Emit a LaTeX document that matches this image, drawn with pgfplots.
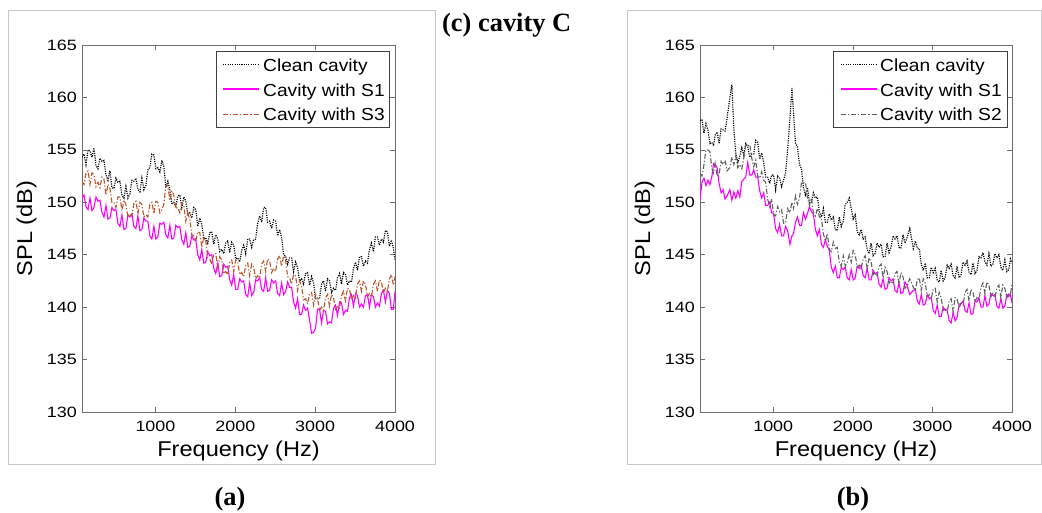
\documentclass[border=0pt]{standalone}
\usepackage{pgfplots}
\pgfplotsset{compat=1.18}
\usepackage{pgfplotstable}
\usepackage{fontspec}
\setmainfont{Liberation Serif}
\newfontfamily\sansf[FakeStretch=1.1]{Liberation Sans}
\newfontfamily\tickf[FakeStretch=1.2]{Liberation Sans}
\definecolor{mag}{RGB}{255,0,255}
\definecolor{brn}{RGB}{185,85,40}
\definecolor{gryl}{RGB}{95,95,95}
\definecolor{axg}{RGB}{110,110,110}
\definecolor{frm}{RGB}{200,200,200}
\definecolor{lgb}{RGB}{64,64,64}

\pgfplotstableread{
f c s1 s3
80 154.3 150.4 152.0
105 154.6 150.7 151.7
130 153.6 149.6 152.8
155 155.0 149.3 153.0
180 154.9 150.4 151.7
205 154.3 149.2 152.8
230 155.2 149.5 152.6
255 153.5 150.5 151.5
280 153.2 150.1 151.9
305 154.2 150.2 151.4
330 153.9 149.0 152.4
355 154.0 148.6 152.2
380 152.6 149.7 150.7
405 152.1 148.4 151.7
430 153.0 148.5 151.3
455 151.4 149.5 150.0
480 151.3 149.2 150.0
505 152.3 149.3 149.5
530 151.9 148.0 150.5
555 152.0 147.7 150.5
580 150.7 148.8 149.2
605 150.4 147.4 150.2
630 151.5 147.5 149.8
655 150.4 148.8 148.6
680 150.8 148.6 148.9
705 152.1 148.9 148.7
730 152.0 147.7 149.9
755 152.3 147.5 150.1
780 151.2 148.7 148.9
805 151.0 147.3 150.0
830 152.3 147.4 149.8
855 151.2 148.5 148.6
880 151.6 148.2 148.8
905 153.1 148.2 148.6
930 153.3 146.8 149.8
955 154.6 146.5 150.0
980 154.5 147.7 148.9
1005 153.2 146.5 150.1
1030 153.3 146.7 150.0
1055 152.9 148.0 149.0
1080 154.0 147.9 149.3
1105 153.4 148.1 149.8
1130 151.4 146.9 151.6
1155 152.0 146.6 151.6
1180 151.2 147.8 150.2
1205 149.9 146.5 151.1
1230 150.0 146.6 150.7
1255 149.6 147.8 149.4
1280 150.6 147.6 149.5
1305 150.7 147.7 149.0
1330 149.5 146.4 149.9
1355 150.5 146.0 149.7
1380 150.1 147.1 148.2
1405 148.8 145.7 149.0
1430 149.0 145.8 148.4
1455 148.5 146.8 146.9
1480 149.5 146.4 146.8
1505 149.3 146.4 146.3
1530 147.7 145.0 147.2
1555 148.5 144.5 147.1
1580 147.9 145.5 145.7
1605 146.5 144.2 146.7
1630 146.6 144.3 146.3
1655 146.1 145.3 144.7
1680 147.1 144.9 144.6
1705 147.2 145.0 144.1
1730 146.0 143.7 145.1
1755 146.9 143.2 145.1
1780 146.5 144.2 143.8
1805 145.3 142.9 144.8
1830 145.5 143.0 144.5
1855 145.1 144.1 143.2
1880 146.1 143.8 143.4
1905 146.3 143.9 143.1
1930 145.2 142.6 144.3
1955 146.2 142.1 144.5
1980 145.9 143.1 143.4
2005 144.6 141.7 144.5
2030 144.7 141.7 144.3
2055 144.3 142.7 143.1
2080 145.4 142.4 143.3
2105 145.9 142.5 142.9
2130 145.1 141.2 144.0
2155 146.5 141.0 144.2
2180 146.5 142.3 143.0
2205 145.7 141.1 144.1
2230 146.4 141.4 143.8
2255 146.5 142.6 142.7
2280 148.0 142.5 143.0
2305 148.7 142.8 142.8
2330 148.1 141.7 144.1
2355 149.5 141.5 144.4
2380 149.5 142.8 143.4
2405 148.1 141.5 144.6
2430 148.2 141.6 144.4
2455 147.5 142.6 143.3
2480 148.3 142.3 143.7
2505 148.2 142.5 143.4
2530 146.8 141.3 144.6
2555 147.4 141.1 144.9
2580 146.6 142.3 143.9
2605 145.0 141.2 144.9
2630 144.9 141.5 144.5
2655 144.1 142.4 142.9
2680 144.7 141.9 142.8
2705 144.7 141.9 142.2
2730 143.4 140.5 143.1
2755 144.3 139.9 143.0
2780 143.8 140.8 141.6
2805 142.5 139.3 142.5
2830 142.7 139.3 142.0
2855 142.2 140.2 140.7
2880 143.2 139.7 140.8
2905 143.3 139.9 140.3
2930 142.1 138.8 141.3
2955 142.9 137.5 141.4
2980 142.3 137.6 140.2
3005 140.8 138.0 141.2
3030 140.8 139.8 140.8
3055 140.8 139.8 139.7
3080 142.2 138.5 140.0
3105 142.5 139.7 139.7
3130 141.5 139.6 140.9
3155 142.7 138.4 141.2
3180 142.5 138.6 140.1
3205 141.4 138.5 141.2
3230 141.8 139.9 140.9
3255 141.6 140.2 139.8
3280 142.8 139.2 140.1
3305 143.2 140.5 139.9
3330 142.2 140.4 141.1
3355 143.3 139.3 141.5
3380 143.1 139.7 140.6
3405 142.1 139.6 141.8
3430 142.5 140.9 141.7
3455 142.4 141.2 140.7
3480 143.7 140.1 141.1
3505 144.3 141.3 140.9
3530 143.5 141.1 142.2
3555 144.8 140.0 142.5
3580 144.8 140.3 141.5
3605 143.9 140.0 142.5
3630 144.4 141.1 142.2
3655 144.2 141.2 141.0
3680 145.5 140.0 141.3
3705 146.1 141.2 141.0
3730 145.3 141.0 142.2
3755 146.7 140.0 142.5
3780 146.7 140.4 141.5
3805 145.9 140.1 142.6
3830 146.5 141.3 142.4
3855 146.2 141.6 141.4
3880 147.3 140.5 141.8
3905 147.2 141.6 141.5
3930 145.8 141.3 142.7
3955 146.4 139.8 143.1
3980 145.6 139.8 142.1
4000 144.5 141.5 142.9
}\tabA

\pgfplotstableread{
f c s1 s2
80 157.8 150.3 152.7
105 157.9 151.9 152.5
130 156.6 152.3 153.6
155 157.5 151.6 155.0
180 156.9 152.1 155.0
205 155.6 151.7 154.8
230 155.7 152.5 153.2
250 155.4 153.7 152.8
270 156.4 153.6 153.7
295 156.7 153.3 152.5
320 155.6 151.8 152.7
345 157.0 150.9 153.9
370 156.9 151.2 153.6
395 156.8 150.3 154.0
420 158.0 150.6 153.0
455 160.0 151.2 153.3
480 161.2 150.2 154.3
505 157.0 151.0 153.6
530 154.6 150.4 154.4
555 153.8 151.1 153.3
580 154.4 150.5 153.6
605 155.2 152.0 153.2
630 154.5 152.2 154.2
655 155.6 152.4 155.5
680 155.3 153.8 155.4
705 154.3 152.6 155.5
730 154.6 152.6 154.2
755 154.6 153.1 153.4
780 155.9 152.4 154.0
805 155.7 152.4 152.5
830 154.1 151.1 152.3
855 154.7 150.4 152.9
880 153.8 150.9 152.1
905 152.4 149.7 151.9
930 152.4 149.7 150.3
955 151.8 150.0 149.6
980 152.6 149.0 150.3
1005 152.6 148.9 148.8
1030 151.2 147.5 148.7
1055 152.5 147.1 149.6
1080 152.3 147.9 149.1
1105 151.5 146.8 149.3
1130 152.1 146.8 148.0
1155 152.8 147.7 148.0
1180 154.9 147.3 149.4
1210 158.0 146.0 149.0
1235 160.9 146.8 150.0
1255 158.5 147.0 149.4
1280 155.6 148.1 150.6
1305 155.3 148.6 149.8
1330 153.6 147.8 150.4
1355 153.2 147.8 151.9
1380 151.4 149.0 151.9
1405 150.7 148.4 151.9
1430 151.4 148.9 150.4
1455 150.0 149.6 149.7
1480 150.0 149.1 150.4
1505 150.9 148.9 148.9
1530 150.4 147.4 148.7
1555 150.5 146.8 149.4
1580 149.1 147.4 148.6
1605 148.6 146.0 148.5
1630 149.4 145.7 147.0
1655 148.1 146.4 146.3
1680 148.1 145.8 147.0
1705 148.9 145.4 145.5
1730 148.3 143.8 145.3
1755 148.6 143.3 146.2
1780 147.4 143.9 145.6
1805 147.3 142.8 145.7
1830 148.6 142.8 144.3
1855 147.7 143.8 143.9
1880 148.2 143.6 144.9
1905 149.8 143.8 143.9
1930 150.0 142.8 144.3
1955 150.4 142.6 145.0
1980 149.4 143.6 144.3
2005 148.4 142.6 145.4
2030 148.8 142.8 145.0
2055 147.2 143.9 143.8
2080 146.9 143.7 144.0
2105 147.4 144.0 143.6
2130 146.5 143.0 144.6
2155 146.7 142.8 144.9
2180 145.5 143.7 143.7
2205 145.1 142.6 144.7
2230 146.1 142.6 144.3
2255 144.9 143.5 143.1
2280 145.1 143.2 143.3
2305 146.1 143.3 142.9
2330 145.7 142.2 143.9
2355 146.0 141.9 144.1
2380 144.8 142.7 142.8
2405 144.8 141.7 143.8
2430 146.1 141.8 143.4
2455 145.2 142.8 142.3
2480 145.7 142.5 142.5
2505 146.8 142.7 142.2
2530 146.5 141.6 143.2
2555 146.8 141.4 143.4
2580 145.7 142.3 142.2
2605 145.6 141.3 143.3
2630 146.9 141.4 142.9
2655 146.1 142.4 141.8
2680 146.6 142.1 142.0
2715 147.5 141.2 142.7
2760 145.6 141.6 141.9
2785 146.3 141.7 141.6
2810 145.6 140.6 142.6
2835 145.6 140.3 142.8
2860 144.1 141.2 141.6
2885 143.5 140.2 142.7
2910 144.2 140.3 142.3
2935 142.8 141.2 141.0
2960 142.8 140.8 141.2
2985 143.8 140.9 140.8
3010 143.3 139.7 141.7
3035 143.7 139.4 141.8
3060 142.6 140.2 140.5
3085 142.4 139.1 141.4
3110 143.5 139.1 140.9
3135 142.5 140.0 139.7
3160 142.8 139.7 139.8
3185 144.0 139.8 139.5
3210 143.7 138.7 140.6
3235 144.1 138.5 140.8
3260 143.0 139.5 139.6
3285 142.8 138.7 140.9
3310 143.9 139.0 140.8
3335 142.8 140.3 139.9
3360 143.1 140.3 140.4
3385 144.3 140.6 140.2
3410 144.0 139.7 141.4
3435 144.4 139.5 141.7
3460 143.3 140.4 140.6
3485 143.1 139.3 141.7
3510 144.2 139.4 141.4
3535 143.2 140.6 140.5
3560 143.5 140.5 140.9
3585 144.8 140.9 140.7
3610 144.7 140.0 141.9
3635 145.2 140.0 142.3
3660 144.3 141.1 141.3
3685 144.0 140.1 142.4
3710 145.1 140.3 142.1
3735 143.9 141.3 141.0
3760 144.1 141.1 141.3
3785 145.1 141.2 140.9
3810 144.7 140.1 141.8
3835 145.0 139.9 142.1
3860 143.8 140.8 140.9
3885 143.5 139.9 142.1
3910 144.5 140.1 141.8
3935 143.4 141.2 140.9
3960 143.6 141.0 141.3
3980 144.6 141.3 141.1
4000 144.2 140.4 142.3
}\tabB

\tikzset{
  cleanst/.style={black, line width=1.2bp, dash pattern=on 1.1bp off 1.2bp},
  s1st/.style={mag, line width=1.1bp, solid},
  s3st/.style={brn, line width=1.1bp, dash pattern=on 5bp off 2bp on 1.2bp off 2bp},
  s2st/.style={gryl, line width=1.1bp, dash pattern=on 5bp off 2bp on 1.2bp off 2bp},
  legtext/.style={anchor=base west, inner sep=0pt, font=\sansf\fontsize{17.5}{17.5}\selectfont},
}

\pgfplotsset{
  spl/.style={
    scale only axis,
    width=313bp, height=367bp,
    xmin=80, xmax=4000, ymin=130, ymax=165,
    xtick={1000,2000,3000,4000},
    ytick={130,135,140,145,150,155,160,165},
    /pgf/number format/assume math mode=true,
    /pgf/number format/1000 sep={},
    axis line style={axg, line width=0.8bp},
    major tick style={axg, line width=0.6bp},
    major tick length=5bp,
    tick align=inside,
    ticklabel style={font=\tickf\fontsize{15}{15}\selectfont},
    xticklabel style={inner sep=0pt, anchor=north, yshift=-8.5bp},
    yticklabel style={inner sep=0pt, anchor=east, xshift=-5bp},
    label style={font=\sansf\fontsize{21.5}{21.5}\selectfont},
    xlabel={Frequency (Hz)},
    ylabel={SPL (dB)},
    xlabel style={at={(axis description cs:0.5,-0.1226)}, anchor=base, inner sep=0pt},
    ylabel style={at={(axis description cs:-0.1597,0.5)}, anchor=base, inner sep=0pt},
  },
}

\begin{document}
\begin{tikzpicture}
\path[use as bounding box] (0bp,0bp) rectangle (1042bp,513bp);
\draw[frm, line width=0.8bp] (8bp,49bp) rectangle (435bp,503bp);
\draw[frm, line width=0.8bp] (627bp,49bp) rectangle (1041bp,503bp);

\begin{axis}[spl, at={(82bp,101bp)}, anchor=south west]
\addplot[cleanst] table[x=f, y=c] {\tabA};
\addplot[s1st] table[x=f, y=s1] {\tabA};
\addplot[s3st] table[x=f, y=s3] {\tabA};
\end{axis}

\begin{axis}[spl, width=312bp, at={(700bp,101bp)}, anchor=south west]
\addplot[cleanst] table[x=f, y=c] {\tabB};
\addplot[s1st] table[x=f, y=s1] {\tabB};
\addplot[s2st] table[x=f, y=s2] {\tabB};
\end{axis}

% legend (a)
\draw[lgb, line width=0.8bp, fill=white] (216bp,386bp) rectangle (389bp,462bp);
\draw[cleanst] (223bp,448.7bp) -- (259bp,448.7bp);
\draw[mag, line width=1.6bp] (223bp,423.7bp) -- (259bp,423.7bp);
\draw[s3st] (223bp,398.7bp) -- (259bp,398.7bp);
\node[legtext] at (263bp,441.5bp) {Clean cavity};
\node[legtext] at (263bp,416.5bp) {Cavity with S1};
\node[legtext] at (263bp,392bp) {Cavity with S3};

% legend (b)
\draw[lgb, line width=0.8bp, fill=white] (833bp,386bp) rectangle (1007bp,462bp);
\draw[cleanst] (841bp,448.7bp) -- (877bp,448.7bp);
\draw[mag, line width=1.6bp] (841bp,423.7bp) -- (877bp,423.7bp);
\draw[s2st] (841bp,398.7bp) -- (877bp,398.7bp);
\node[legtext] at (880bp,441.5bp) {Clean cavity};
\node[legtext] at (880bp,416.5bp) {Cavity with S1};
\node[legtext] at (880bp,392bp) {Cavity with S2};

\node[anchor=base west, inner sep=0pt, font=\bfseries\fontsize{26.5}{26.5}\selectfont] at (442bp,481bp) {(c) cavity C};
\node[anchor=base, inner sep=0pt, font=\bfseries\fontsize{26.5}{26.5}\selectfont] at (230bp,8bp) {(a)};
\node[anchor=base, inner sep=0pt, font=\bfseries\fontsize{26.5}{26.5}\selectfont] at (853bp,8bp) {(b)};
\end{tikzpicture}
\end{document}
